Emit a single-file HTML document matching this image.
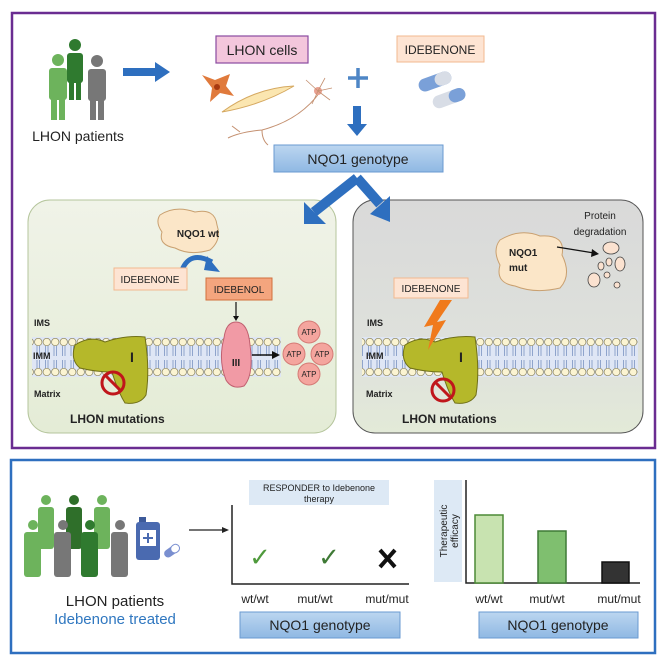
<!DOCTYPE html>
<html><head><meta charset="utf-8"><style>
body{margin:0;background:#fff}
svg{display:block}
text{font-family:"Liberation Sans",sans-serif}
</style></head><body>
<svg width="664" height="664" viewBox="0 0 664 664" xmlns="http://www.w3.org/2000/svg">
<defs>
<linearGradient id="bl" x1="0" y1="0" x2="0" y2="1"><stop offset="0" stop-color="#bcd6f0"/><stop offset="1" stop-color="#8fb8e3"/></linearGradient>
<linearGradient id="gp" x1="0" y1="0" x2="0" y2="1"><stop offset="0" stop-color="#f0f3e8"/><stop offset="1" stop-color="#e4ecd6"/></linearGradient>
<linearGradient id="gg" x1="0" y1="0" x2="0" y2="1"><stop offset="0" stop-color="#d9d9d9"/><stop offset="0.7" stop-color="#dfe2dc"/><stop offset="1" stop-color="#e3ead8"/></linearGradient>
<pattern id="beads" x="0" y="338" width="8.5" height="40" patternUnits="userSpaceOnUse">
<circle cx="4.25" cy="4" r="3.7" fill="#fbf4d2" stroke="#8a8460" stroke-width="0.7"/>
<circle cx="4.25" cy="34" r="3.7" fill="#fbf4d2" stroke="#8a8460" stroke-width="0.7"/>
<path d="M3 8 V18 M5.5 8 V18 M3 22 V30 M5.5 22 V30" stroke="#5a78b0" stroke-width="0.6"/>
</pattern>
</defs>
<rect x="12" y="13" width="643" height="435" fill="#fff" stroke="#6a2c91" stroke-width="2.5"/>
<g>
<circle cx="75" cy="45" r="6" fill="#2f7a2f"/><rect x="67" y="53" width="16" height="30" rx="3" fill="#2f7a2f"/><rect x="69" y="80" width="5" height="20" fill="#2f7a2f"/><rect x="76" y="80" width="5" height="20" fill="#2f7a2f"/>
<circle cx="58" cy="60" r="6" fill="#6db35c"/><rect x="49" y="68" width="18" height="32" rx="3" fill="#6db35c"/><rect x="51" y="96" width="6" height="24" fill="#6db35c"/><rect x="59" y="96" width="6" height="24" fill="#6db35c"/>
<circle cx="97" cy="61" r="6" fill="#777"/><rect x="88" y="69" width="18" height="32" rx="3" fill="#777"/><rect x="90" y="97" width="6" height="23" fill="#777"/><rect x="98" y="97" width="6" height="23" fill="#777"/>
</g>
<text x="78" y="141" font-size="14" text-anchor="middle" fill="#222">LHON patients</text>
<path d="M123 68 H155 V62 L170 72 L155 82 V76 H123 Z" fill="#2e6fbf"/>
<rect x="216" y="36" width="92" height="27" fill="#f3c6dc" stroke="#8a4aa0" stroke-width="1.2"/>
<text x="262" y="55" font-size="14" text-anchor="middle" fill="#222">LHON cells</text>
<rect x="397" y="36" width="87" height="26" fill="#fde4d3" stroke="#f2b98f"/>
<text x="440" y="54" font-size="12" text-anchor="middle" fill="#222">IDEBENONE</text>
<path d="M202 75 L215 80 L230 74 L226 86 L234 96 L220 93 L210 102 L212 88 Z" fill="#e07a3c"/>
<circle cx="217" cy="87" r="3" fill="#a83a10"/>
<path d="M222 112 Q255 88 294 86 Q262 105 222 112Z" fill="#fbe6b0" stroke="#d5a860"/>
<path d="M320 92 Q300 120 262 130 Q240 132 228 138 M262 130 Q262 140 268 145 M240 132 L232 126" stroke="#c49070" fill="none" stroke-width="1"/>
<circle cx="318" cy="91" r="4" fill="#e9a090"/>
<path d="M318 91 L306 80 M318 91 L325 78 M318 91 L332 88 M318 91 L330 100 M318 91 L312 104" stroke="#c49070" stroke-width="0.8"/>
<path d="M358 68 V88 M348 78 H368" stroke="#4e86c6" stroke-width="3.5"/>
<g transform="rotate(-20 432 82)"><rect x="418" y="76" width="34" height="13" rx="6.5" fill="#7aa0d8"/><rect x="435" y="76" width="17" height="13" rx="6.5" fill="#d8dde6"/></g>
<g transform="rotate(-20 448 98)"><rect x="432" y="92" width="34" height="13" rx="6.5" fill="#d8dde6"/><rect x="449" y="92" width="17" height="13" rx="6.5" fill="#7aa0d8"/></g>
<path d="M353 106 H361 V124 H367 L357 136 L347 124 H353 Z" fill="#2e6fbf"/>
<rect x="274" y="145" width="169" height="27" fill="url(#bl)" stroke="#6a9ad0"/>
<text x="358" y="164" font-size="14" text-anchor="middle" fill="#222">NQO1 genotype</text>
<rect x="28" y="200" width="308" height="233" rx="22" fill="url(#gp)" stroke="#b5c59c"/>
<rect x="353" y="200" width="290" height="233" rx="22" fill="url(#gg)" stroke="#555"/>
<path d="M357 178 L314 212" stroke="#2e6fbf" stroke-width="10" fill="none"/>
<path d="M357 178 L380 204" stroke="#2e6fbf" stroke-width="10" fill="none"/>
<path d="M304 202 L304 224 L326 224 Z" fill="#2e6fbf"/>
<path d="M390 196 L390 222 L370 214 Z" fill="#2e6fbf"/>
<rect x="32" y="337" width="249" height="40" fill="#dfe6f5"/>
<rect x="32" y="338" width="249" height="40" fill="url(#beads)"/>
<rect x="362" y="337" width="276" height="40" fill="#dfe6f5"/>
<rect x="362" y="338" width="276" height="40" fill="url(#beads)"/>
<text x="34" y="326" font-size="9" font-weight="bold" fill="#222">IMS</text>
<text x="33" y="359" font-size="9" font-weight="bold" fill="#222">IMM</text>
<text x="34" y="397" font-size="9" font-weight="bold" fill="#222">Matrix</text>
<text x="367" y="326" font-size="9" font-weight="bold" fill="#222">IMS</text>
<text x="366" y="359" font-size="9" font-weight="bold" fill="#222">IMM</text>
<text x="366" y="397" font-size="9" font-weight="bold" fill="#222">Matrix</text>
<path d="M160 215 Q175 205 195 212 Q215 208 217 225 Q222 240 210 250 Q190 256 175 248 Q158 245 162 232 Q155 222 160 215Z" fill="#fbe6c8" stroke="#c9a070"/>
<text x="198" y="237" font-size="10" font-weight="bold" text-anchor="middle" fill="#222">NQO1 wt</text>
<path d="M182 270 Q190 250 212 262" stroke="#2e6fbf" stroke-width="5" fill="none"/>
<path d="M207 256 L220 272 L204 270 Z" fill="#2e6fbf"/>
<rect x="114" y="268" width="73" height="22" fill="#fde4d3" stroke="#f2b98f"/>
<text x="150" y="283" font-size="10" text-anchor="middle" fill="#222">IDEBENONE</text>
<rect x="206" y="278" width="66" height="22" fill="#f4a57e" stroke="#d2703c"/>
<text x="239" y="293" font-size="10" text-anchor="middle" fill="#222">IDEBENOL</text>
<path d="M236 302 V318" stroke="#111" stroke-width="1.2"/><path d="M233 316 L236 321 L239 316Z" fill="#111"/>
<path d="M75 345 Q90 335 105 342 Q125 335 145 337 Q150 370 146 395 Q140 405 125 403 Q118 392 112 372 Q96 372 80 368 Q70 360 75 345Z" fill="#b5b82a" stroke="#707018"/>
<text x="130" y="362" font-size="14" font-weight="bold" fill="#222">I</text>
<circle cx="113" cy="383" r="11" fill="none" stroke="#c0161b" stroke-width="3"/><path d="M105 375 L121 391" stroke="#c0161b" stroke-width="3"/>
<path d="M236 322 Q248 322 250 345 Q254 375 244 386 Q232 390 226 380 Q218 360 224 338 Q226 322 236 322Z" fill="#f19aa5" stroke="#c06070"/>
<text x="236" y="366" font-size="10" font-weight="bold" text-anchor="middle" fill="#222">III</text>
<path d="M252 355 H274" stroke="#111" stroke-width="1.5"/><path d="M272 351 L280 355 L272 359Z" fill="#111"/>
<g fill="#f4a59e" stroke="#d57a75"><circle cx="309" cy="332" r="11"/><circle cx="294" cy="354" r="11"/><circle cx="322" cy="354" r="11"/><circle cx="309" cy="374" r="11"/></g>
<g font-size="8" text-anchor="middle" fill="#222"><text x="309" y="335">ATP</text><text x="294" y="357">ATP</text><text x="322" y="357">ATP</text><text x="309" y="377">ATP</text></g>
<text x="70" y="423" font-size="12" font-weight="bold" fill="#222">LHON mutations</text>
<text x="600" y="219" font-size="10" text-anchor="middle" fill="#222">Protein</text>
<text x="600" y="235" font-size="10" text-anchor="middle" fill="#222">degradation</text>
<path d="M500 240 Q520 228 540 236 Q566 234 562 255 Q572 275 560 288 Q535 294 515 286 Q495 283 500 265 Q492 250 500 240Z" fill="#fbe6c8" stroke="#c9a070"/>
<text x="509" y="256" font-size="10" font-weight="bold" fill="#222">NQO1</text>
<text x="509" y="271" font-size="10" font-weight="bold" fill="#222">mut</text>
<path d="M557 247 L594 253" stroke="#111" stroke-width="1.2"/><path d="M592 249 L599 254 L591 257Z" fill="#111"/>
<g fill="#fbe2d0" stroke="#444" stroke-width="0.8"><ellipse cx="611" cy="248" rx="8" ry="6"/><ellipse cx="601" cy="266" rx="3" ry="4"/><ellipse cx="609" cy="262" rx="3" ry="4"/><ellipse cx="620" cy="264" rx="5" ry="7"/><ellipse cx="594" cy="280" rx="6" ry="7"/><ellipse cx="607" cy="275" rx="3" ry="3"/><ellipse cx="617" cy="285" rx="3" ry="3"/></g>
<rect x="394" y="278" width="74" height="20" fill="#fde4d3" stroke="#f2b98f"/>
<text x="431" y="292" font-size="10" text-anchor="middle" fill="#222">IDEBENONE</text>
<path d="M405 345 Q420 335 435 342 Q455 335 475 337 Q480 370 476 395 Q470 405 455 403 Q448 392 442 372 Q426 372 410 368 Q400 360 405 345Z" fill="#b5b82a" stroke="#707018"/>
<text x="459" y="362" font-size="14" font-weight="bold" fill="#222">I</text>
<path d="M452 300 L437 322 L446 320 L428 350 L433 325 L424 327 L440 300Z" fill="#f07a1c"/>
<circle cx="443" cy="390" r="11" fill="none" stroke="#c0161b" stroke-width="3"/><path d="M435 382 L451 398" stroke="#c0161b" stroke-width="3"/>
<text x="402" y="423" font-size="12" font-weight="bold" fill="#222">LHON mutations</text>
<rect x="11" y="460" width="644" height="193" fill="#fff" stroke="#2e6fbf" stroke-width="2.5"/>
<g>
<g fill="#6db35c"><circle cx="46" cy="500" r="5"/><rect x="38" y="507" width="16" height="42" rx="3"/>
<circle cx="102" cy="500" r="5"/><rect x="94" y="507" width="16" height="42" rx="3"/></g>
<g fill="#2f6f2a"><circle cx="74" cy="500" r="5"/><rect x="66" y="507" width="16" height="42" rx="3"/></g>
<g fill="#6db35c"><circle cx="33" cy="525" r="5"/><rect x="24" y="532" width="17" height="45" rx="3"/></g>
<g fill="#777"><circle cx="63" cy="525" r="5"/><rect x="54" y="532" width="17" height="45" rx="3"/></g>
<g fill="#2f7a2f"><circle cx="90" cy="525" r="5"/><rect x="81" y="532" width="17" height="45" rx="3"/></g>
<g fill="#777"><circle cx="120" cy="525" r="5"/><rect x="111" y="532" width="17" height="45" rx="3"/></g>
</g>
<rect x="139" y="517" width="7" height="5" fill="#3d5a9a"/><rect x="136" y="522" width="24" height="38" rx="3" fill="#4a6ab0"/><rect x="140" y="530" width="16" height="16" fill="#fff"/><path d="M148 533 V543 M143 538 H153" stroke="#4a6ab0" stroke-width="2"/>
<g transform="rotate(-35 172 552)"><rect x="164" y="547" width="17" height="8" rx="4" fill="#7a8fd0"/><rect x="172" y="547" width="9" height="8" rx="4" fill="#fff" stroke="#7a8fd0"/></g>
<text x="115" y="606" font-size="15" text-anchor="middle" fill="#222">LHON patients</text>
<text x="115" y="624" font-size="15" text-anchor="middle" fill="#2f77c0">Idebenone treated</text>
<path d="M189 530 H224" stroke="#222" stroke-width="1.2"/><path d="M222 527 L229 530 L222 533Z" fill="#222"/>
<rect x="249" y="480" width="140" height="25" fill="#dde9f5"/>
<text x="319" y="491" font-size="9" text-anchor="middle" fill="#222">RESPONDER to Idebenone</text>
<text x="319" y="502" font-size="9" text-anchor="middle" fill="#222">therapy</text>
<path d="M232 505 V584 H409" stroke="#222" stroke-width="1.5" fill="none"/>
<text x="260" y="566" font-size="26" text-anchor="middle" fill="#4f9a3c">✓</text>
<text x="329" y="566" font-size="26" text-anchor="middle" fill="#3f7a36">✓</text>
<path d="M380 550 L395 567 M395 550 L380 567" stroke="#111" stroke-width="4"/>
<g font-size="12" text-anchor="middle" fill="#222"><text x="255" y="603">wt/wt</text><text x="315" y="603">mut/wt</text><text x="387" y="603">mut/mut</text></g>
<rect x="240" y="612" width="160" height="26" fill="url(#bl)" stroke="#6a9ad0"/>
<text x="320" y="630" font-size="14" text-anchor="middle" fill="#222">NQO1 genotype</text>
<rect x="434" y="480" width="28" height="102" fill="#dde9f5"/>
<text transform="translate(447 531) rotate(-90)" font-size="10" text-anchor="middle" fill="#222">Therapeutic</text>
<text transform="translate(458 531) rotate(-90)" font-size="10" text-anchor="middle" fill="#222">efficacy</text>
<path d="M466 480 V583 H640" stroke="#222" stroke-width="1.5" fill="none"/>
<rect x="475" y="515" width="28" height="68" fill="#c8e3b0" stroke="#4c8a36" stroke-width="1.5"/>
<rect x="538" y="531" width="28" height="52" fill="#7fbf6f" stroke="#3f7a36" stroke-width="1.5"/>
<rect x="602" y="562" width="27" height="21" fill="#333" stroke="#111" stroke-width="1.5"/>
<g font-size="12" text-anchor="middle" fill="#222"><text x="489" y="603">wt/wt</text><text x="547" y="603">mut/wt</text><text x="619" y="603">mut/mut</text></g>
<rect x="479" y="612" width="159" height="26" fill="url(#bl)" stroke="#6a9ad0"/>
<text x="558" y="630" font-size="14" text-anchor="middle" fill="#222">NQO1 genotype</text>
</svg>
</body></html>
